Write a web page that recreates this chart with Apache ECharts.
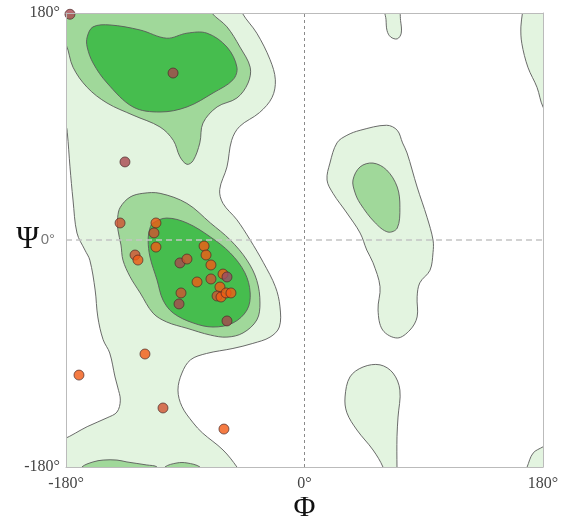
<!DOCTYPE html>
<html><head><meta charset="utf-8">
<script src="https://cdn.jsdelivr.net/npm/echarts@6/dist/echarts.min.js"></script>
<style>html,body{margin:0;padding:0;background:#fff}#c{width:565px;height:523px}</style>
</head><body><div id="c"></div>
<script>
// Axis ticks
const phiTicks = [-180, 0, 180];
const psiTicks = [-180, 0, 180];

// Contour regions (phi, psi), degrees
const lightMain = [[-185,185],[-47,185],[-47,180],[-36,164],[-26,143],[-22,127],[-24.5,113],[-34,101],[-49,90],[-55,79],[-58.5,58],[-64,40],[-61.5,29],[-51,16],[-41,0],[-31,-18],[-22,-37],[-18.5,-53],[-19,-69],[-26,-77],[-39,-82],[-54,-86],[-74,-90],[-86,-95],[-92.5,-105.5],[-95.5,-119],[-92.5,-132],[-84,-145],[-77,-153],[-61.5,-166.5],[-51,-180],[-49,-185],[-185,-185],[-185,-157],[-182,-158],[-164,-148],[-149,-141],[-141.5,-136.4],[-139,-127],[-141,-116.6],[-143,-108.6],[-147,-89.6],[-152,-79],[-156,-61],[-158,-39.7],[-162,-16],[-165.7,-8],[-171.7,5.5],[-174.7,31.7],[-177,58],[-179,85],[-180,90],[-185,95]];
const lightAlphaL = [[19.2,61],[24.5,77],[32,83],[42,87],[62,91],[70,87],[74,77],[77.4,69],[85,42],[92.5,18],[97,0],[97,-10],[94.7,-24],[87,-34],[85,-45],[85,-61],[79.6,-71.4],[70,-77.7],[59,-71.4],[55.5,-55.5],[57,-37],[51.7,-18],[47,-8],[42,5.5],[32,21.4],[21.5,37],[17,47.6]];
const lightTopSmall = [[60.7,185],[61.5,175],[62.3,166],[65,161],[70,159.5],[73,164],[72.5,174],[70.6,185]];
const lightTopRight = [[165,185],[164.5,180],[163.3,169],[164,156],[168.6,137],[175.5,121],[180,105.5],[186,98],[186,185]];
const lightBottomBlob = [[30.6,-124.5],[34.3,-108.6],[44.2,-100.7],[57,-99],[66.8,-105.5],[72,-119],[70.6,-140.4],[69.8,-156],[69.8,-180],[70,-185],[59.2,-185],[59.2,-180],[51.7,-166.5],[39.6,-150.7],[32,-137]];
const lightBottomCorner = [[166,-185],[168,-180],[172.5,-169],[180,-164],[185,-161],[185,-185]];
const medBeta = [[-185,185],[-71,185],[-70,180],[-58.5,169],[-48.7,153],[-41,137],[-42.6,124.5],[-51,112.6],[-66,105.5],[-76.6,92.8],[-79,77],[-84,63],[-88.7,60],[-94,66],[-99,79],[-109,89.6],[-129.4,99],[-149,108.6],[-164,121],[-174.7,137],[-180,155],[-185,160]];
const medAlpha = [[-139,26],[-131.7,34],[-122,37],[-109,37],[-88.7,29],[-71,13.5],[-56,0],[-43.4,-16],[-36,-32],[-33.6,-50],[-36,-63.4],[-46.4,-73.7],[-58.5,-77],[-71,-75.4],[-88.7,-70],[-104,-65],[-114.3,-58],[-124,-42],[-131.7,-29],[-137,-16],[-138.5,-4],[-140.8,8],[-141,18]];
const medAlphaL = [[36.6,47.6],[42,58],[51.7,61],[62,55.5],[70,42],[72,26],[70,9.5],[63,6.3],[53,14],[42,29],[38,38]];
const medBottom1 = [[-169,-185],[-168,-180],[-159.6,-176],[-152,-174.5],[-141.5,-174.5],[-134,-176],[-119,-178.4],[-111.3,-180],[-111,-185]];
const medBottom2 = [[-106,-185],[-105.3,-180],[-96.2,-176.8],[-88.7,-176.8],[-78.9,-180],[-78,-185]];
const darkBeta = [[-164,161],[-159.6,169],[-146.8,170.5],[-124,166.5],[-104,160],[-88.7,164],[-73.6,164],[-58.5,153],[-51,137],[-54,127],[-69,116.6],[-88.7,105.5],[-109,101.5],[-129.4,105.5],[-149,124.5],[-159.6,140.4],[-164,153]];
const darkAlpha = [[-116.6,9.5],[-114.3,13.5],[-104,17.4],[-88.7,13.5],[-71,2.4],[-56,-10.3],[-45,-26],[-41,-42],[-43.4,-55.5],[-54,-65.8],[-69,-69],[-84,-65.8],[-99,-58],[-106.8,-47.6],[-111.3,-31.7],[-116.6,-13.5],[-118,0]];

// Residues (phi, psi)
const residuePhi = [-177,-99.2,-135.5,-139.2,-112.1,-113.6,-112.1,-127.9,-125.7,-94,-88.7,-75.8,-74.3,-70.6,-61.5,-58.5,-81.1,-70.6,-63.8,-66,-63,-59.2,-55.5,-93.2,-94.7,-58.5,-120.4,-170.2,-106.8,-60.8];
const residuePsi = [179,132.4,61.9,13.5,13.5,5.6,-5.6,-11.9,-15.9,-18.2,-15.1,-4.8,-11.9,-19.8,-27,-29.3,-33.3,-30.9,-37.3,-44.4,-45.2,-42,-42,-42,-50.7,-64.2,-90.4,-107.1,-133.2,-149.9];
// colour group: 0 orange, 1 orange-brown, 2 brown, 3 purple-brown
const residueGroup = [2,2,2,1,0,1,0,1,0,2,1,0,0,0,0,3,0,1,0,1,0,0,0,1,2,2,0,0,1,0];

const groupColors = ['#f25a14','#cf5331','#a8474f','#9a4b66'];
const levelFill = ['#e3f4e0','#a0d89a','#46bd4e'];
const regions = [
  [lightMain,0],[lightAlphaL,0],[lightTopSmall,0],[lightTopRight,0],[lightBottomBlob,0],[lightBottomCorner,0],
  [medBeta,1],[medAlpha,1],[medAlphaL,1],[medBottom1,1],[medBottom2,1],
  [darkBeta,2],[darkAlpha,2]
];

const serif = "'Liberation Serif','DejaVu Serif',serif";
const chart = echarts.init(document.getElementById('c'));
const axisCommon = {
  type:'value', min:-180, max:180, interval:180,
  splitLine:{show:false}, axisTick:{show:false}, z:10, nameMoveOverlap:false,
  axisLine:{show:true, onZero:false, lineStyle:{color:'#bbb', width:1}}
};
chart.setOption({
  animation:false,
  grid:{left:66, right:22, top:13, bottom:56, containLabel:false, outerBoundsMode:'none'},
  xAxis:[
    Object.assign({}, axisCommon, {position:'bottom',
      axisLabel:{formatter:v=>v+'°', color:'#444', fontFamily:serif, fontSize:16, margin:9},
      name:'Φ', nameLocation:'middle', nameGap:26,
      nameTextStyle:{fontFamily:serif, fontSize:30, color:'#111'}}),
    Object.assign({}, axisCommon, {position:'top', axisLabel:{show:false}})
  ],
  yAxis:[
    Object.assign({}, axisCommon, {position:'left',
      axisLabel:{formatter:v=> v===0 ? '{z|0°}' : v+'°', color:'#444', fontFamily:serif, fontSize:16, margin:6,
        rich:{z:{fontFamily:"'Liberation Sans',Arial,sans-serif", fontSize:15, color:'#777', padding:[0,5,0,0]}}},
      name:'Ψ', nameLocation:'middle', nameGap:27, nameRotate:0,
      nameTextStyle:{fontFamily:serif, fontSize:31, color:'#111'}}),
    Object.assign({}, axisCommon, {position:'right', axisLabel:{show:false}})
  ],
  series:[
    {
      type:'custom', clip:true, silent:true, z:1,
      data: regions.map((r,i)=>[i,0]),
      renderItem:(params, api)=>{
        const reg = regions[params.dataIndex];
        const pts = reg[0].map(p=>api.coord(p));
        return {type:'polygon', shape:{points:pts, smooth:0.35},
          style:{fill:levelFill[reg[1]], stroke:'#5a5a5a', lineWidth:0.9}};
      }
    },
    {type:'line', silent:true, symbol:'none', z:3, data:[[phiTicks[1],psiTicks[0]],[phiTicks[1],psiTicks[2]]],
      lineStyle:{color:'#8a8a8a', width:1, type:[3,3]}},
    {type:'line', silent:true, symbol:'none', z:3, data:[[phiTicks[0],psiTicks[1]],[phiTicks[2],psiTicks[1]]],
      lineStyle:{color:'#c4c4c4', width:1.6, type:[6,4]}},
    {type:'scatter', z:5, symbolSize:10, clip:false,
      data: residuePhi.map((p,i)=>({value:[p, residuePsi[i]], itemStyle:{color:groupColors[residueGroup[i]]}})),
      itemStyle:{borderColor:'rgba(70,40,40,0.85)', borderWidth:1}}
  ]
});
</script></body></html>
